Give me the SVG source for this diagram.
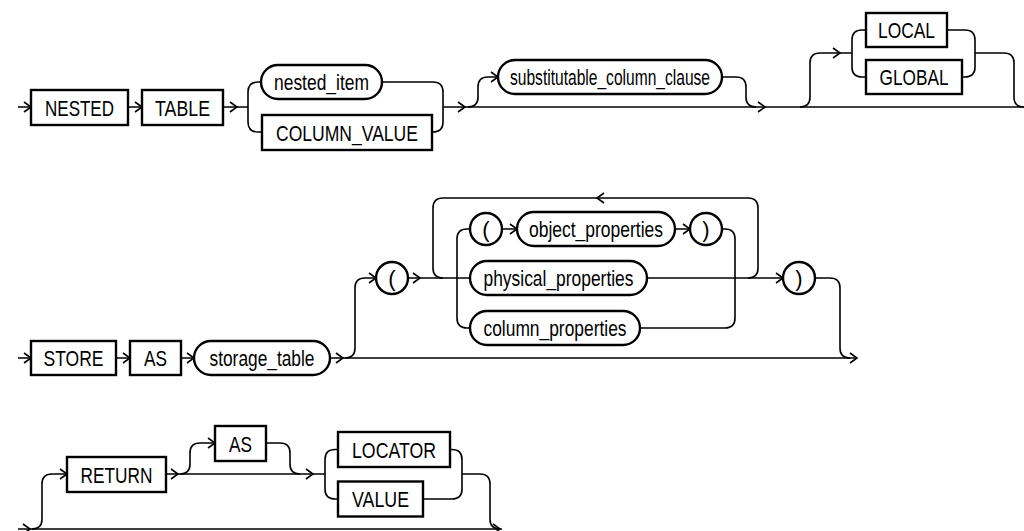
<svg xmlns="http://www.w3.org/2000/svg" xmlns:xlink="http://www.w3.org/1999/xlink" width="1024" height="531" viewBox="0 0 1024 531">
<style>
.box{fill:#fff;stroke:#000;stroke-width:2.4}
.ln{fill:none;stroke:#000;stroke-width:1.6}
.t{font-family:"Liberation Sans",Arial,sans-serif;font-size:22px;fill:#000;text-anchor:middle}
</style>
<defs>
<path id="ar" class="ln" d="M-7,-5 L0,0 L-7,5"/>
</defs>
<rect width="1024" height="531" fill="#fff"/>
<g id="connectors">
<!-- row 1 -->
<path class="ln" d="M18,107 H31 M128,107 H142 M223,107 H248"/>
<path class="ln" d="M261,82 H258 Q248,82 248,92 V122 Q248,132 258,132 H262"/>
<path class="ln" d="M382,82 H433 Q443,82 443,92 V122 Q443,132 433,132 H432"/>
<path class="ln" d="M443,107 H1024"/>
<path class="ln" d="M468,107 Q478,107 478,97 V87 Q478,77 488,77 H498"/>
<path class="ln" d="M722,77 H736 Q746,77 746,87 V97 Q746,107 756,107"/>
<path class="ln" d="M800,107 Q810,107 810,97 V63 Q810,53 820,53 H852"/>
<path class="ln" d="M866,30 H862 Q852,30 852,40 V67 Q852,77 862,77 H866"/>
<path class="ln" d="M947,30 H965 Q975,30 975,40 V67 Q975,77 965,77 H962"/>
<path class="ln" d="M975,53 H1004 Q1014,53 1014,63 V97 Q1014,107 1024,107"/>
<use xlink:href="#ar" href="#ar" x="31" y="107"/>
<use xlink:href="#ar" href="#ar" x="142" y="107"/>
<use xlink:href="#ar" href="#ar" x="237" y="107"/>
<use xlink:href="#ar" href="#ar" x="465" y="107"/>
<use xlink:href="#ar" href="#ar" x="498" y="77"/>
<use xlink:href="#ar" href="#ar" x="765" y="107"/>
<use xlink:href="#ar" href="#ar" x="840" y="53"/>
<!-- row 2 -->
<path class="ln" d="M18,358 H31 M116,358 H130 M181,358 H194 M330,358 H857"/>
<use xlink:href="#ar" href="#ar" x="31" y="358"/>
<use xlink:href="#ar" href="#ar" x="130" y="358"/>
<use xlink:href="#ar" href="#ar" x="194" y="358"/>
<use xlink:href="#ar" href="#ar" x="343" y="358"/>
<use xlink:href="#ar" href="#ar" x="857" y="358"/>
<path class="ln" d="M345,358 Q355,358 355,348 V288 Q355,278 365,278 H376"/>
<use xlink:href="#ar" href="#ar" x="376" y="278"/>
<path class="ln" d="M408,278 H470"/>
<use xlink:href="#ar" href="#ar" x="420" y="278"/>
<path class="ln" d="M443,278 Q433,278 433,268 V208 Q433,198 443,198 H748 Q758,198 758,208 V268 Q758,278 748,278"/>
<use xlink:href="#ar" href="#ar" transform="translate(597,198) rotate(180)"/>
<path class="ln" d="M470,229 H467 Q457,229 457,239 V318 Q457,328 467,328 H470"/>
<path class="ln" d="M502,229 H517 M675,229 H690"/>
<use xlink:href="#ar" href="#ar" x="517" y="229"/>
<use xlink:href="#ar" href="#ar" x="690" y="229"/>
<path class="ln" d="M722,229 H725 Q735,229 735,239 V318 Q735,328 725,328 H640"/>
<path class="ln" d="M647,278 H783"/>
<use xlink:href="#ar" href="#ar" x="783" y="278"/>
<path class="ln" d="M815,278 H830 Q840,278 840,288 V348 Q840,358 850,358"/>
<!-- row 3 -->
<path class="ln" d="M18,529 H502"/>
<use xlink:href="#ar" href="#ar" x="30" y="529"/>
<path class="ln" d="M32,529 Q42,529 42,519 V484 Q42,474 52,474 H67"/>
<use xlink:href="#ar" href="#ar" x="67" y="474"/>
<path class="ln" d="M166,474 H325"/>
<use xlink:href="#ar" href="#ar" x="178" y="474"/>
<path class="ln" d="M180,474 Q190,474 190,464 V453 Q190,443 200,443 H215"/>
<use xlink:href="#ar" href="#ar" x="215" y="443"/>
<path class="ln" d="M266,443 H280 Q290,443 290,453 V464 Q290,474 300,474"/>
<use xlink:href="#ar" href="#ar" x="313" y="474"/>
<path class="ln" d="M338,449.5 H335 Q325,449.5 325,459.5 V489 Q325,499 335,499 H338"/>
<path class="ln" d="M450,449.5 H452 Q462,449.5 462,459.5 V489 Q462,499 452,499 H423"/>
<path class="ln" d="M462,474 H480 Q490,474 490,484 V519 Q490,529 500,529"/>
<use xlink:href="#ar" href="#ar" x="500" y="529"/>
</g>
<g id="n-nested"><rect class="box" x="31" y="90" width="97" height="35"/><text class="t" x="79.5" y="115.5" textLength="69" lengthAdjust="spacingAndGlyphs">NESTED</text></g>
<g id="n-table"><rect class="box" x="142" y="90" width="81" height="35"/><text class="t" x="182.5" y="115.5" textLength="55" lengthAdjust="spacingAndGlyphs">TABLE</text></g>
<g id="n-nested_item"><rect class="box" x="261" y="65" width="121" height="34" rx="17"/><text class="t" x="321.5" y="90" textLength="95" lengthAdjust="spacingAndGlyphs">nested_item</text></g>
<g id="n-column_value"><rect class="box" x="262" y="115" width="170" height="35"/><text class="t" x="347" y="140.5" textLength="142" lengthAdjust="spacingAndGlyphs">COLUMN_VALUE</text></g>
<g id="n-subst"><rect class="box" x="498" y="60" width="224" height="34" rx="17"/><text class="t" x="610" y="85" textLength="200" lengthAdjust="spacingAndGlyphs">substitutable_column_clause</text></g>
<g id="n-local"><rect class="box" x="866" y="13" width="81" height="34"/><text class="t" x="906.5" y="38" textLength="57" lengthAdjust="spacingAndGlyphs">LOCAL</text></g>
<g id="n-global"><rect class="box" x="866" y="60" width="96" height="34"/><text class="t" x="914" y="85" textLength="69" lengthAdjust="spacingAndGlyphs">GLOBAL</text></g>
<g id="n-store"><rect class="box" x="31" y="341" width="85" height="34"/><text class="t" x="73.5" y="366" textLength="60" lengthAdjust="spacingAndGlyphs">STORE</text></g>
<g id="n-as1"><rect class="box" x="130" y="341" width="51" height="34"/><text class="t" x="155.5" y="366" textLength="23" lengthAdjust="spacingAndGlyphs">AS</text></g>
<g id="n-storage_table"><rect class="box" x="194" y="341" width="136" height="34" rx="17"/><text class="t" x="262" y="366" textLength="105" lengthAdjust="spacingAndGlyphs">storage_table</text></g>
<g id="n-lparen1"><circle class="box" cx="392" cy="278" r="16"/><text class="t" x="392" y="286">(</text></g>
<g id="n-lparen2"><circle class="box" cx="486" cy="229" r="16"/><text class="t" x="486" y="237">(</text></g>
<g id="n-object_properties"><rect class="box" x="517" y="212" width="158" height="34" rx="17"/><text class="t" x="596" y="237" textLength="134" lengthAdjust="spacingAndGlyphs">object_properties</text></g>
<g id="n-rparen2"><circle class="box" cx="706" cy="229" r="16"/><text class="t" x="706" y="237">)</text></g>
<g id="n-physical_properties"><rect class="box" x="470" y="261" width="177" height="34" rx="17"/><text class="t" x="558.5" y="286" textLength="150" lengthAdjust="spacingAndGlyphs">physical_properties</text></g>
<g id="n-column_properties"><rect class="box" x="470" y="311" width="170" height="34" rx="17"/><text class="t" x="555" y="336" textLength="143" lengthAdjust="spacingAndGlyphs">column_properties</text></g>
<g id="n-rparen1"><circle class="box" cx="799" cy="278" r="16"/><text class="t" x="799" y="286">)</text></g>
<g id="n-return"><rect class="box" x="67" y="457" width="99" height="35"/><text class="t" x="116.5" y="482.5" textLength="72" lengthAdjust="spacingAndGlyphs">RETURN</text></g>
<g id="n-as2"><rect class="box" x="215" y="426" width="51" height="35"/><text class="t" x="240.5" y="451.5" textLength="23" lengthAdjust="spacingAndGlyphs">AS</text></g>
<g id="n-locator"><rect class="box" x="338" y="432" width="112" height="35"/><text class="t" x="394" y="457.5" textLength="84" lengthAdjust="spacingAndGlyphs">LOCATOR</text></g>
<g id="n-value"><rect class="box" x="338" y="481.5" width="85" height="35"/><text class="t" x="380.5" y="507" textLength="57" lengthAdjust="spacingAndGlyphs">VALUE</text></g>
</svg>
